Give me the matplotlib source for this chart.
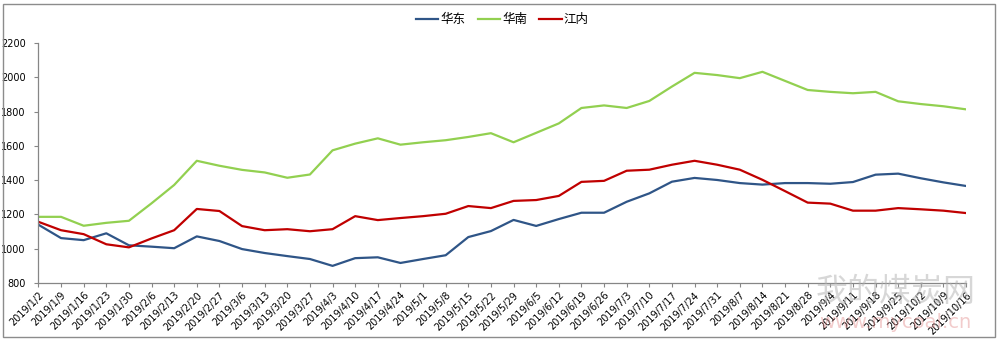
import matplotlib
matplotlib.use('Agg')
from matplotlib import pyplot as plt
from matplotlib.patches import Rectangle

plt.rcParams['font.family'] = ['Noto Sans CJK SC', 'DejaVu Sans']

dates = ['2019/1/2', '2019/1/9', '2019/1/16', '2019/1/23', '2019/1/30', '2019/2/6', '2019/2/13',
         '2019/2/20', '2019/2/27', '2019/3/6', '2019/3/13', '2019/3/20', '2019/3/27', '2019/4/3',
         '2019/4/10', '2019/4/17', '2019/4/24', '2019/5/1', '2019/5/8', '2019/5/15', '2019/5/22',
         '2019/5/29', '2019/6/5', '2019/6/12', '2019/6/19', '2019/6/26', '2019/7/3', '2019/7/10',
         '2019/7/17', '2019/7/24', '2019/7/31', '2019/8/7', '2019/8/14', '2019/8/21', '2019/8/28',
         '2019/9/4', '2019/9/11', '2019/9/18', '2019/9/25', '2019/10/2', '2019/10/9', '2019/10/16']

huadong = [1140, 1062, 1050, 1090, 1020, 1012, 1003, 1072, 1045, 998, 975, 957, 940, 900,
           945, 950, 917, 940, 962, 1068, 1103, 1168, 1133, 1173, 1210, 1210, 1274, 1323,
           1391, 1413, 1401, 1383, 1374, 1383, 1383, 1379, 1389, 1432, 1438, 1411, 1387, 1366]

huanan = [1186, 1186, 1134, 1151, 1163, 1265, 1372, 1513, 1484, 1460, 1445, 1414, 1433, 1574,
          1613, 1644, 1607, 1621, 1633, 1652, 1674, 1621, 1676, 1731, 1821, 1836, 1821, 1862,
          1946, 2026, 2013, 1995, 2032, 1979, 1926, 1915, 1907, 1915, 1860, 1844, 1831, 1813]

jiangnei = [1157, 1108, 1085, 1026, 1008, 1060, 1108, 1232, 1220, 1132, 1108, 1114, 1102, 1114,
            1190, 1167, 1179, 1190, 1204, 1249, 1237, 1279, 1284, 1308, 1390, 1396, 1455, 1461,
            1490, 1513, 1490, 1461, 1402, 1336, 1269, 1263, 1222, 1222, 1237, 1230, 1222, 1208]

fig = plt.figure(figsize=(9.98, 3.40), dpi=100)
ax = fig.add_axes([0.0385, 0.1676, 0.9295, 0.7059])

x = range(len(dates))
ax.plot(x, huadong, color='#2F5587', lw=1.6, label='华东')
ax.plot(x, huanan, color='#92D050', lw=1.6, label='华南')
ax.plot(x, jiangnei, color='#C00000', lw=1.6, label='江内')

ax.set_xlim(0, len(dates) - 1)
ax.set_ylim(800, 2200)
ax.set_yticks(range(800, 2201, 200))
ax.set_xticks(list(x))
ax.set_xticklabels(dates, rotation=45, ha='right', rotation_mode='anchor', fontsize=7,
                   family='DejaVu Sans')
for lab in ax.get_yticklabels():
    lab.set_fontsize(7)
    lab.set_family('DejaVu Sans')

for side in ('top', 'right'):
    ax.spines[side].set_visible(False)
for side in ('left', 'bottom'):
    ax.spines[side].set_color('#868686')
    ax.spines[side].set_linewidth(0.9)
ax.tick_params(axis='both', color='#868686', length=3, width=0.8, labelcolor='#000000')
ax.tick_params(axis='y', pad=6)
ax.tick_params(axis='x', pad=2)

ax.legend(loc='center', bbox_to_anchor=(0.5, 1.096), ncol=3, frameon=False,
          fontsize=9, handlelength=1.8, handletextpad=0.15, columnspacing=1.0)

# site watermark
fig.text(0.897, 0.14, '我的煤炭网', ha='center', va='center', fontsize=23,
         color='#B0B0B0', alpha=0.5)
fig.text(0.897, 0.05, 'www.mycoal.cn', ha='center', va='center', fontsize=14,
         color='#E08080', alpha=0.4, family='DejaVu Sans')

fig.patches.append(Rectangle((0.003, 0.01), 0.994, 0.978, transform=fig.transFigure,
                             fill=False, edgecolor='#8C8C8C', lw=1))

fig.savefig('out.png', dpi=100)
